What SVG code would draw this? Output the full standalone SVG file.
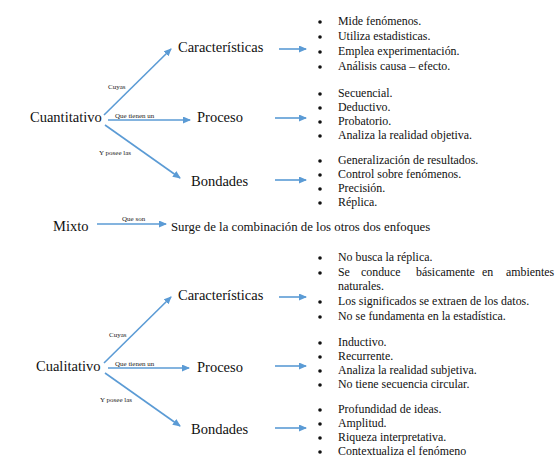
<svg xmlns="http://www.w3.org/2000/svg" width="559" height="458" viewBox="0 0 559 458">
<style>
text{font-family:'Liberation Serif','Times New Roman','DejaVu Serif',serif;fill:#111}
.main{font-size:14.5px}
.sm{font-size:7px;fill:#222}
.li{font-size:11.9px}
.mx{font-size:12.8px}
.c{stroke:#5b9bd5;stroke-width:1.6;fill:none;marker-end:url(#ah)}
.b{fill:#111}
</style>
<defs>
<marker id="ah" markerWidth="8" markerHeight="7" refX="7" refY="3.5" orient="auto" markerUnits="userSpaceOnUse">
<path d="M0,0 L8,3.5 L0,7 z" fill="#5b9bd5"/>
</marker>
</defs>
<rect width="559" height="458" fill="#fff"/>
<g id="connectors">
<line class="c" x1="104" y1="115" x2="171" y2="49"/>
<line class="c" x1="108" y1="120" x2="190" y2="120"/>
<line class="c" x1="105" y1="125" x2="180" y2="178"/>
<line class="c" x1="279" y1="49" x2="306" y2="49"/>
<line class="c" x1="275" y1="118" x2="306" y2="118"/>
<line class="c" x1="275" y1="180" x2="306" y2="180"/>
<line class="c" x1="97" y1="224" x2="166" y2="224"/>
<line class="c" x1="104" y1="363" x2="171" y2="297"/>
<line class="c" x1="108" y1="368" x2="189" y2="368"/>
<line class="c" x1="105" y1="373" x2="180" y2="426"/>
<line class="c" x1="279" y1="297" x2="306" y2="297"/>
<line class="c" x1="275" y1="366" x2="306" y2="366"/>
<line class="c" x1="275" y1="428" x2="306" y2="428"/>
<text class="sm" x="108" y="89">Cuyas</text>
<text class="sm" x="115" y="118">Que tienen un</text>
<text class="sm" x="99" y="155">Y posee las</text>
<text class="sm" x="122" y="221">Que son</text>
<text class="sm" x="109" y="337">Cuyas</text>
<text class="sm" x="115" y="366">Que tienen un</text>
<text class="sm" x="100" y="402">Y posee las</text>
</g>
<g id="cuantitativo"><text class="main" x="30" y="122">Cuantitativo</text></g>
<g id="caracteristicas-1"><text class="main" x="178" y="52">Características</text></g>
<g id="proceso-1"><text class="main" x="197" y="122">Proceso</text></g>
<g id="bondades-1"><text class="main" x="191" y="186">Bondades</text></g>
<g id="lista-caracteristicas-1">
<circle class="b" cx="320" cy="22" r="1.8"/><text class="li" x="338" y="25">Mide fenómenos.</text>
<circle class="b" cx="320" cy="37" r="1.8"/><text class="li" x="338" y="40">Utiliza estadisticas.</text>
<circle class="b" cx="320" cy="52" r="1.8"/><text class="li" x="338" y="55">Emplea experimentación.</text>
<circle class="b" cx="320" cy="67" r="1.8"/><text class="li" x="338" y="70">Análisis causa – efecto.</text>
</g>
<g id="lista-proceso-1">
<circle class="b" cx="320" cy="94" r="1.8"/><text class="li" x="338" y="97">Secuencial.</text>
<circle class="b" cx="320" cy="108" r="1.8"/><text class="li" x="338" y="111">Deductivo.</text>
<circle class="b" cx="320" cy="122" r="1.8"/><text class="li" x="338" y="125">Probatorio.</text>
<circle class="b" cx="320" cy="136" r="1.8"/><text class="li" x="338" y="139">Analiza la realidad objetiva.</text>
</g>
<g id="lista-bondades-1">
<circle class="b" cx="320" cy="161" r="1.8"/><text class="li" x="338" y="164">Generalización de resultados.</text>
<circle class="b" cx="320" cy="175" r="1.8"/><text class="li" x="338" y="178">Control sobre fenómenos.</text>
<circle class="b" cx="320" cy="189" r="1.8"/><text class="li" x="338" y="192">Precisión.</text>
<circle class="b" cx="320" cy="203" r="1.8"/><text class="li" x="338" y="206">Réplica.</text>
</g>
<g id="mixto"><text class="main" x="53" y="231">Mixto</text></g>
<g id="surge"><text class="mx" x="171" y="231">Surge de la combinación de los otros dos enfoques</text></g>
<g id="cualitativo"><text class="main" x="36" y="371">Cualitativo</text></g>
<g id="caracteristicas-2"><text class="main" x="178" y="300">Características</text></g>
<g id="proceso-2"><text class="main" x="197" y="372">Proceso</text></g>
<g id="bondades-2"><text class="main" x="191" y="434">Bondades</text></g>
<g id="lista-caracteristicas-2">
<circle class="b" cx="320" cy="258" r="1.8"/><text class="li" x="338" y="261">No busca la réplica.</text>
<circle class="b" cx="320" cy="273" r="1.8"/><text class="li" y="276"><tspan x="338">Se</tspan><tspan x="361">conduce</tspan><tspan x="416">básicamente</tspan><tspan x="482">en</tspan><tspan x="506">ambientes</tspan></text>
<text class="li" x="338" y="290">naturales.</text>
<circle class="b" cx="320" cy="302" r="1.8"/><text class="li" x="338" y="305">Los significados se extraen de los datos.</text>
<circle class="b" cx="320" cy="317" r="1.8"/><text class="li" x="338" y="320">No se fundamenta en la estadística.</text>
</g>
<g id="lista-proceso-2">
<circle class="b" cx="320" cy="343" r="1.8"/><text class="li" x="338" y="346">Inductivo.</text>
<circle class="b" cx="320" cy="357" r="1.8"/><text class="li" x="338" y="360">Recurrente.</text>
<circle class="b" cx="320" cy="371" r="1.8"/><text class="li" x="338" y="374">Analiza la realidad subjetiva.</text>
<circle class="b" cx="320" cy="385" r="1.8"/><text class="li" x="338" y="388">No tiene secuencia circular.</text>
</g>
<g id="lista-bondades-2">
<circle class="b" cx="320" cy="410" r="1.8"/><text class="li" x="338" y="413">Profundidad de ideas.</text>
<circle class="b" cx="320" cy="424" r="1.8"/><text class="li" x="338" y="427">Amplitud.</text>
<circle class="b" cx="320" cy="438" r="1.8"/><text class="li" x="338" y="441">Riqueza interpretativa.</text>
<circle class="b" cx="320" cy="452" r="1.8"/><text class="li" x="338" y="455">Contextualiza el fenómeno</text>
</g>
</svg>
